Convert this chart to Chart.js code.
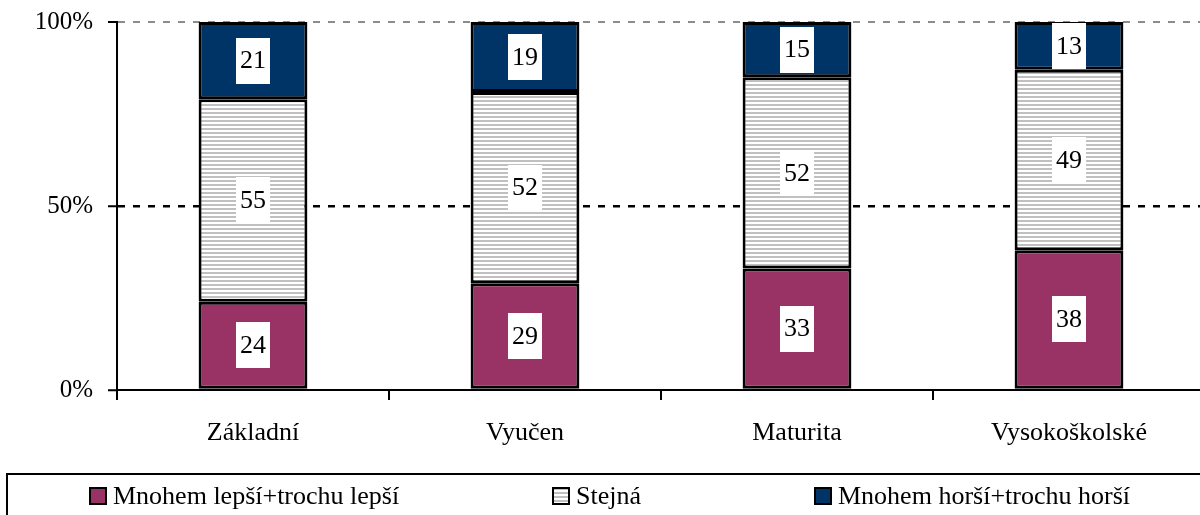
<!DOCTYPE html>
<html>
<head>
<meta charset="utf-8">
<script src="https://cdn.jsdelivr.net/npm/chart.js@4/dist/chart.umd.min.js"></script>
<style>
  html, body { margin: 0; padding: 0; background: #fff; overflow: hidden; width: 1200px; height: 515px; }
  #wrap { position: absolute; left: 0; top: 0; width: 1210px; height: 540px; }
</style>
</head>
<body>
<div id="wrap"><canvas id="c" width="1210" height="540"></canvas></div>
<script>
// ---- data ----
const categories = ['Základní', 'Vyučen', 'Maturita', 'Vysokoškolské'];
const seriesNames = ['Mnohem lepší+trochu lepší', 'Stejná', 'Mnohem horší+trochu horší'];
const better = [24, 29, 33, 38];
const same = [55, 52, 52, 49];
const worse = [21, 19, 15, 13];
const yTickValues = [0, 50, 100];

// ---- styles ----
const FONT = '"Liberation Serif", "Times New Roman", serif';
const PINK = '#993366';
const NAVY = '#003366';

function stripePattern() {
  const c = document.createElement('canvas');
  c.width = 8; c.height = 4;
  const g = c.getContext('2d');
  g.fillStyle = '#ffffff'; g.fillRect(0, 0, 8, 4);
  g.fillStyle = '#c0c0c0'; g.fillRect(0, 0, 8, 2);
  return g.createPattern(c, 'repeat');
}
const STRIPES = stripePattern();

const valueLabels = {
  id: 'valueLabels',
  afterDatasetsDraw(chart) {
    const ctx = chart.ctx;
    ctx.save();
    ctx.font = '26px ' + FONT;
    ctx.textAlign = 'center';
    ctx.textBaseline = 'middle';
    chart.data.datasets.forEach((ds, di) => {
      const meta = chart.getDatasetMeta(di);
      meta.data.forEach((bar, i) => {
        const v = ds.data[i];
        const txt = String(v);
        const cx = bar.x;
        const cy = (bar.y + bar.base) / 2;
        const w = ctx.measureText(txt).width + 8;
        const h = 46;
        ctx.fillStyle = '#ffffff';
        ctx.fillRect(Math.round(cx - w / 2), Math.round(cy - h / 2), Math.round(w), h);
        ctx.fillStyle = '#000000';
        ctx.fillText(txt, cx, cy + 1);
      });
    });
    ctx.restore();
  }
};

const legendX = [90, 553, 815];
const boxLegend = {
  id: 'boxLegend',
  afterDraw(chart) {
    const ctx = chart.ctx;
    ctx.save();
    ctx.strokeStyle = '#000';
    ctx.lineWidth = 2;
    ctx.strokeRect(7, 474, 1400, 200);
    ctx.font = '26px ' + FONT;
    ctx.textBaseline = 'middle';
    ctx.textAlign = 'left';
    const y = 496;
    chart.data.datasets.forEach((ds, i) => {
      const x = legendX[i];
      ctx.fillStyle = ds.backgroundColor;
      ctx.fillRect(x, y - 8, 16, 16);
      ctx.lineWidth = 2;
      ctx.strokeStyle = '#000';
      ctx.strokeRect(x, y - 8, 16, 16);
      ctx.fillStyle = '#000';
      ctx.fillText(ds.label, x + 23, y + 1);
    });
    ctx.restore();
  }
};

const mk = (label, data, color) => ({
  label, data,
  backgroundColor: color,
  borderColor: '#000',
  borderWidth: 3,
  borderSkipped: false,
  inflateAmount: 0,
  categoryPercentage: 1.0,
  barPercentage: 0.4
});

new Chart(document.getElementById('c'), {
  type: 'bar',
  data: {
    labels: categories,
    datasets: [
      mk(seriesNames[0], better, PINK),
      mk(seriesNames[1], same, STRIPES),
      mk(seriesNames[2], worse, NAVY)
    ]
  },
  options: {
    responsive: false,
    animation: false,
    devicePixelRatio: 1,
    layout: { padding: { left: 0, top: 22, right: 5, bottom: 90 } },
    plugins: {
      legend: { display: false },
      tooltip: { enabled: false },
      title: { display: false }
    },
    scales: {
      x: {
        stacked: true,
        offset: true,
        grid: {
          offset: true,
          drawOnChartArea: false,
          drawTicks: true,
          tickLength: 10,
          color: '#000',
          tickColor: '#000',
          tickWidth: 2,
          lineWidth: 2
        },
        border: { display: true, color: '#000', width: 2 },
        ticks: {
          color: '#000',
          font: { family: FONT, size: 26 },
          padding: 18,
          maxRotation: 0
        },
        afterFit(s) { s.height = 60; }
      },
      y: {
        stacked: true,
        min: 0,
        max: 100,
        afterBuildTicks(s) { s.ticks = yTickValues.map(v => ({ value: v })); },
        grid: {
          drawOnChartArea: true,
          drawTicks: true,
          tickLength: 9,
          tickColor: '#000',
          tickWidth: 2,
          tickBorderDash: [],
          lineWidth: (ctx) => (ctx.tick && ctx.tick.value === 100 ? 2 : 2.5),
          color: (ctx) => {
            if (!ctx.tick) return '#000';
            if (ctx.tick.value === 100) return '#8c8c8c';
            if (ctx.tick.value === 0) return 'rgba(0,0,0,0)';
            return '#000';
          }
        },
        border: { display: true, color: '#000', width: 2, dash: [7, 8] },
        ticks: {
          color: '#000',
          font: { family: FONT, size: 25 },
          padding: 15,
          callback: (v) => v + '%'
        },
        afterFit(s) { s.width = 117; s.paddingTop = 0; s.paddingBottom = 0; }
      }
    }
  },
  plugins: [valueLabels, boxLegend]
});
</script>
</body>
</html>
